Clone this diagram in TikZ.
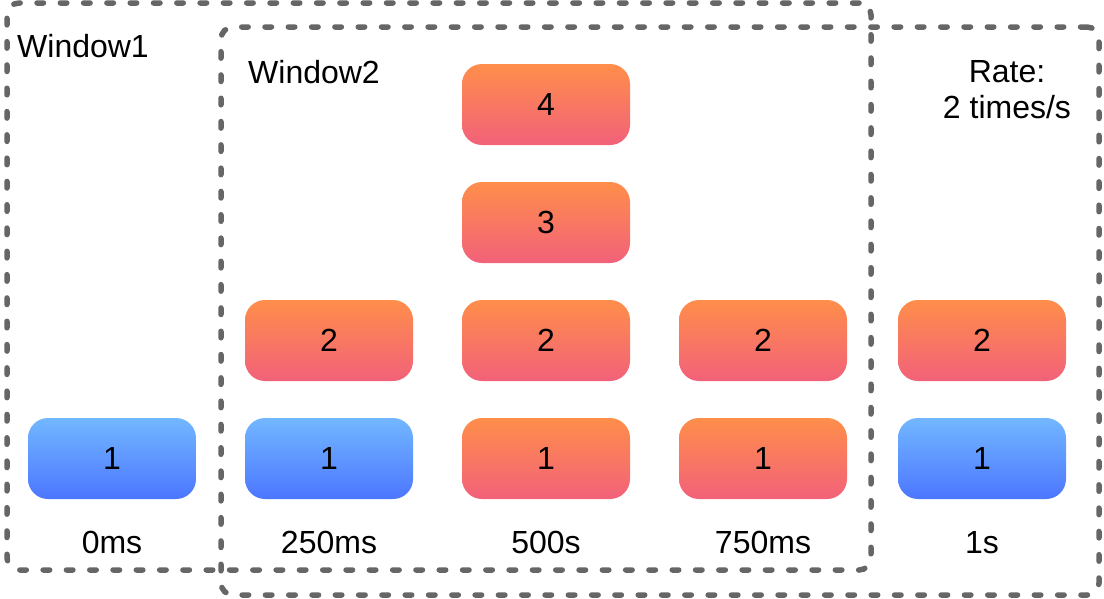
\documentclass[tikz,border=0pt]{standalone}
\usepackage{fontspec}
\setmainfont{Liberation Sans}
\definecolor{orTop}{RGB}{255,142,74}
\definecolor{orBot}{RGB}{242,97,122}
\definecolor{blTop}{RGB}{114,183,255}
\definecolor{blBot}{RGB}{76,118,255}
\definecolor{dashgray}{RGB}{102,102,102}
\tikzset{
  txt/.style={inner sep=0pt, font=\fontsize{32}{37}\selectfont, text=black},
  msg/.style={txt, minimum width=168pt, minimum height=81pt, rounded corners=20pt},
  hot/.style={msg, top color=orTop, bottom color=orBot, draw=none},
  cold/.style={msg, top color=blTop, bottom color=blBot, draw=none},
  win/.style={draw=dashgray, line width=5.5pt, dash pattern=on 6.5pt off 16.8pt, line cap=round, rounded corners=12pt, inner sep=0pt},
}
\begin{document}
\begin{tikzpicture}[x=1pt,y=-1pt]
\useasboundingbox (0,0) rectangle (1104,598);
% windows
\node[win, minimum width=864pt, minimum height=567pt] (w1) at (439,286.5) {};
\node[win, minimum width=878pt, minimum height=568pt] (w2) at (660,311) {};
% labels
\node[txt, anchor=base west] (l1) at (17,57) {Window1};
\node[txt, anchor=base west] (l2) at (248,83) {Window2};
\node[txt, anchor=base] (r1) at (1007,82) {Rate:};
\node[txt, anchor=base] (r2) at (1007,118) {2 times/s};
% column 0ms
\node[cold] (b0a) at (112,458.5) {1};
\node[txt, anchor=base] (t0) at (112,553) {0ms};
% column 250ms
\node[cold] (b1a) at (329,458.5) {1};
\node[hot]  (b1b) at (329,340.5) {2};
\node[txt, anchor=base] (t1) at (329,553) {250ms};
% column 500s
\node[hot] (b2a) at (546,458.5) {1};
\node[hot] (b2b) at (546,340.5) {2};
\node[hot] (b2c) at (546,222.5) {3};
\node[hot] (b2d) at (546,104.5) {4};
\node[txt, anchor=base] (t2) at (546,553) {500s};
% column 750ms
\node[hot] (b3a) at (763,458.5) {1};
\node[hot] (b3b) at (763,340.5) {2};
\node[txt, anchor=base] (t3) at (763,553) {750ms};
% column 1s
\node[cold] (b4a) at (982,458.5) {1};
\node[hot]  (b4b) at (982,340.5) {2};
\node[txt, anchor=base] (t4) at (982,553) {1s};
\end{tikzpicture}
\end{document}
